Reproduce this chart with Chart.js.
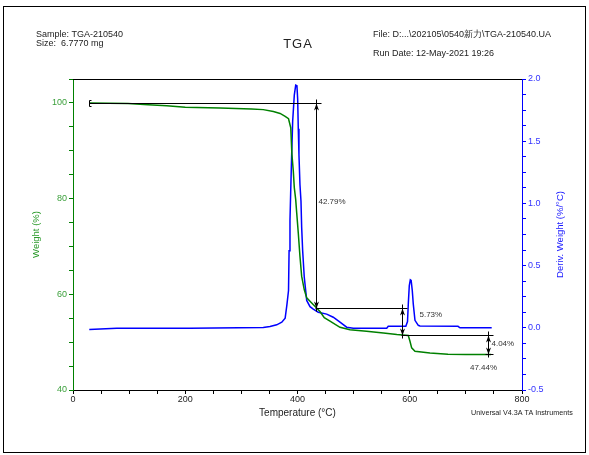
<!DOCTYPE html>
<html>
<head>
<meta charset="utf-8">
<script src="https://cdn.jsdelivr.net/npm/chart.js@4.4.1/dist/chart.umd.min.js"></script>
<style>
  body { margin: 0; background: #fff; }
</style>
</head>
<body>
<canvas id="tgaChart" width="589" height="455"></canvas>
<script>
// weight curve (green)
const weightTemp = [29, 98, 134, 167, 200, 262, 318, 339, 357, 369, 378, 384, 388, 390, 392.5, 394.3, 396.8, 398.6, 401.4, 404.4,
  407.4, 412, 416.4, 425.3, 431, 440, 447.7, 457.9, 475.7, 493.5, 523, 553, 577, 597.4, 600.4, 603.4, 609.3, 636, 668, 700, 745];
const weightPct = [100, 99.9, 99.6, 99.4, 99.1, 98.95, 98.75, 98.6, 98.2, 97.8, 97.2, 96.7, 94.8, 89.3, 85.8, 82.3, 79.8, 77.0, 72.8, 67.9,
  63.8, 61.0, 59.25, 58.2, 57.5, 56.4, 55.1, 54.4, 53.1, 52.6, 52.3, 51.9, 51.6, 51.4, 50.2, 48.8, 48.1, 47.75, 47.45, 47.42, 47.4];

// derivative curve (blue)
const derivTemp = [29, 78, 208, 339, 351, 363, 372, 378, 381, 384, 385, 386.6, 387.8, 389.6, 391.4, 394.3, 396.8, 399, 400.3, 401.4,
  402.6, 404.4, 406.2, 407.4, 409.2, 412, 416.4, 422.3, 428.1, 437, 452, 463.7, 475.7, 487.6, 499.4, 559, 561.7, 593, 596, 597.5,
  599.2, 601, 602.5, 604.5, 606.3, 609.3, 615.2, 618.2, 686, 689.5, 746];
const derivVal = [-0.014, -0.003, -0.003, 0.002, 0.01, 0.024, 0.045, 0.077, 0.18, 0.3, 0.62, 0.86, 1.08, 1.39, 1.66, 1.87, 1.95, 1.945, 1.84, 1.6,
  1.39, 1.15, 1.02, 0.81, 0.62, 0.41, 0.22, 0.17, 0.15, 0.125, 0.11, 0.085, 0.045, 0.005, -0.003, -0.003, 0.013, 0.013, 0.05, 0.2,
  0.34, 0.385, 0.38, 0.3, 0.19, 0.06, 0.02, 0.015, 0.012, 0, 0];

// step analysis
const startTemp = 29;
const stepTemp = [433, 587, 740];
const stepFrom = [100, 57.21, 51.48];
const stepLoss = [42.79, 5.73, 4.04];
const residue = 47.44;

const FONT = "Arial, 'Liberation Sans', sans-serif";

function pts(xs, ys) {
  return xs.map((t, i) => ({ x: t, y: ys[i] }));
}

const overlay = {
  id: 'overlay',
  afterDatasetsDraw(chart) {
    const ctx = chart.ctx;
    const a = chart.chartArea;
    const x = chart.scales.x, y = chart.scales.y;
    const labelOff = [[2, -4], [17, -7], [3, -1]];
    ctx.save();
    ctx.strokeStyle = '#000';
    ctx.fillStyle = '#000';
    ctx.lineWidth = 1;

    function seg(x1, y1, x2, y2) {
      ctx.beginPath(); ctx.moveTo(x1, y1); ctx.lineTo(x2, y2); ctx.stroke();
    }
    function arrow(px, tip, dir) {
      ctx.beginPath();
      ctx.moveTo(px, tip);
      ctx.lineTo(px - 2.5, tip + dir * 7);
      ctx.lineTo(px, tip + dir * 5);
      ctx.lineTo(px + 2.5, tip + dir * 7);
      ctx.closePath();
      ctx.fill();
    }

    // top frame of the plot
    seg(a.left, a.top + 0.5, a.right, a.top + 0.5);

    let prevX = Math.round(x.getPixelForValue(startTemp)) + 0.5;
    const y100 = Math.round(y.getPixelForValue(stepFrom[0])) + 0.5;
    // start bracket
    seg(prevX, y100 - 3, prevX, y100 + 3);
    seg(prevX, y100 - 3, prevX + 2, y100 - 3);
    seg(prevX, y100 + 3, prevX + 2, y100 + 3);

    ctx.font = '8px ' + FONT;
    ctx.textBaseline = 'middle';
    for (let i = 0; i < stepTemp.length; i++) {
      const px = Math.round(x.getPixelForValue(stepTemp[i])) + 0.5;
      const y0 = Math.round(y.getPixelForValue(stepFrom[i])) + 0.5;
      const y1 = Math.round(y.getPixelForValue(stepFrom[i] - stepLoss[i])) + 0.5;
      seg(prevX, y0, px + 5, y0);
      seg(px, y0 - 4, px, y1 + 3);
      arrow(px, y0, 1);
      arrow(px, y1, -1);
      ctx.fillStyle = '#333';
      ctx.textAlign = 'left';
      ctx.fillText(stepLoss[i].toFixed(2) + '%', px + labelOff[i][0], (y0 + y1) / 2 + labelOff[i][1]);
      ctx.fillStyle = '#000';
      prevX = px - 1;
    }
    const lastX = Math.round(x.getPixelForValue(stepTemp[stepTemp.length - 1])) + 0.5;
    const yr = Math.round(y.getPixelForValue(residue)) + 0.5;
    seg(lastX - 3, yr, lastX + 5, yr);
    ctx.fillStyle = '#333';
    ctx.textAlign = 'center';
    ctx.fillText(residue.toFixed(2) + '%', lastX - 5, yr + 13);
    ctx.restore();
  },
  afterDraw(chart) {
    const ctx = chart.ctx;
    const a = chart.chartArea;
    ctx.save();
    ctx.strokeStyle = '#000';
    ctx.lineWidth = 1;
    ctx.strokeRect(3.5, 6.5, 582, 446);

    ctx.fillStyle = '#222';
    ctx.textBaseline = 'middle';
    ctx.textAlign = 'left';
    ctx.font = '9px ' + FONT;
    ctx.fillText('Sample: TGA-210540', 36, 35);
    ctx.fillText('Size:  6.7770 mg', 36, 44);
    ctx.fillText('File: D:...\\202105\\0540新力\\TGA-210540.UA', 373, 35);
    ctx.fillText('Run Date: 12-May-2021 19:26', 373, 54);
    ctx.font = '7.2px ' + FONT;
    ctx.fillText('Universal V4.3A TA Instruments', 471, 413);
    ctx.textAlign = 'center';
    ctx.font = '13px ' + FONT;
    ctx.letterSpacing = '1px';
    ctx.fillText('TGA', 298, 44);
    ctx.letterSpacing = '0px';

    // right axis title reads bottom to top
    ctx.fillStyle = '#1a1aff';
    ctx.font = '9.5px ' + FONT;
    ctx.translate(560, (a.top + a.bottom) / 2);
    ctx.rotate(-Math.PI / 2);
    ctx.fillText('Deriv. Weight (%/°C)', 0, 0);
    ctx.restore();
  }
};

new Chart(document.getElementById('tgaChart'), {
  type: 'line',
  data: {
    datasets: [{
      label: 'Weight (%)',
      data: pts(weightTemp, weightPct),
      yAxisID: 'y',
      borderColor: '#008000',
      borderWidth: 1.5,
      pointRadius: 0,
      tension: 0
    }, {
      label: 'Deriv. Weight (%/°C)',
      data: pts(derivTemp, derivVal),
      yAxisID: 'y1',
      borderColor: '#0000ff',
      borderWidth: 1.5,
      pointRadius: 0,
      tension: 0
    }]
  },
  options: {
    responsive: false,
    animation: false,
    layout: { padding: { top: 79, left: 0, right: 0, bottom: 0 } },
    plugins: { legend: { display: false }, tooltip: { enabled: false } },
    scales: {
      x: {
        type: 'linear', position: 'bottom', min: 0, max: 800,
        afterFit(s) { s.height = 65; },
        border: { color: '#000', width: 1 },
        grid: { drawOnChartArea: false, color: '#000', tickLength: 4 },
        ticks: {
          stepSize: 50, autoSkip: false, maxRotation: 0, padding: 0,
          color: '#222', font: { family: FONT, size: 9 },
          callback: v => (v % 200 === 0 ? String(v) : '')
        },
        title: {
          display: true, text: 'Temperature (°C)', color: '#222',
          font: { family: FONT, size: 10 }, padding: { top: 0, bottom: 36 }
        }
      },
      y: {
        position: 'left', min: 40, max: 105,
        afterFit(s) { s.width = 73; },
        border: { color: '#008000', width: 1 },
        grid: { drawOnChartArea: false, color: '#008000', tickLength: 4 },
        ticks: {
          stepSize: 5, autoSkip: false, padding: 2,
          color: '#3a9f3a', font: { family: FONT, size: 9 },
          callback: v => (v % 20 === 0 ? String(v) : '')
        },
        title: {
          display: true, text: 'Weight (%)', color: '#2b9a2b',
          font: { family: FONT, size: 9.5 }, padding: { top: 31, bottom: 0 }
        }
      },
      y1: {
        position: 'right', min: -0.5, max: 2,
        afterFit(s) { s.width = 67; },
        border: { color: '#0000ff', width: 1 },
        grid: { drawOnChartArea: false, color: '#0000ff', tickLength: 4 },
        ticks: {
          stepSize: 0.125, autoSkip: false, padding: 2,
          color: '#3333ff', font: { family: FONT, size: 9 },
          callback: v => (Math.abs(v * 2 - Math.round(v * 2)) < 1e-6 ? v.toFixed(1) : '')
        }
      }
    }
  },
  plugins: [overlay]
});
</script>
</body>
</html>
